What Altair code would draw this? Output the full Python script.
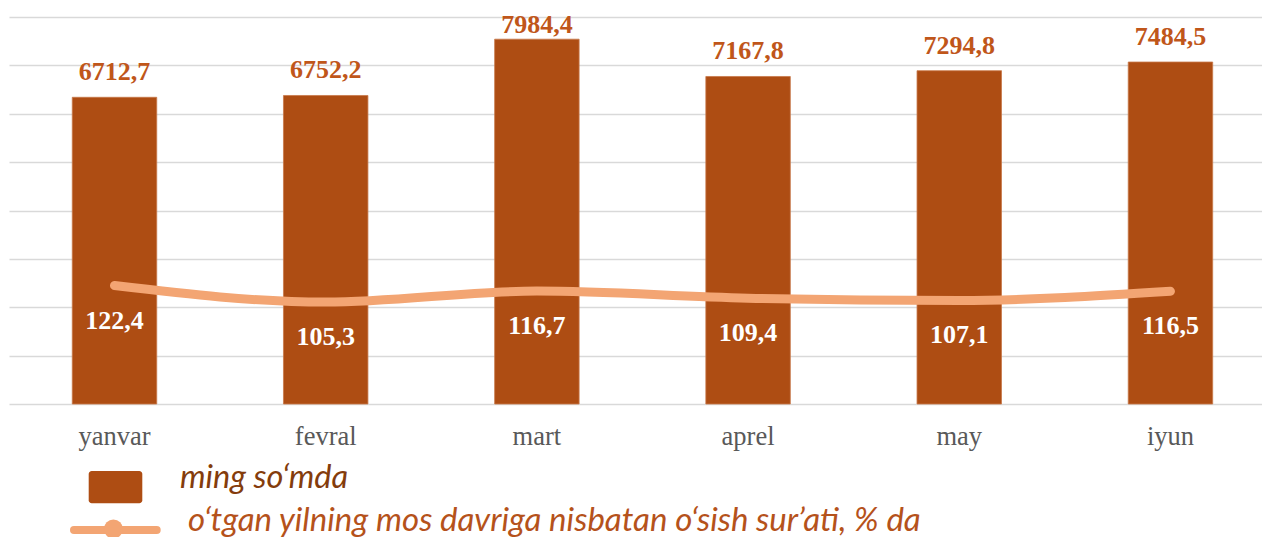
import altair as alt
import pandas as pd

months = ["yanvar", "fevral", "mart", "aprel", "may", "iyun"]
amounts = [6712.7, 6752.2, 7984.4, 7167.8, 7294.8, 7484.5]
growth = [122.4, 105.3, 116.7, 109.4, 107.1, 116.5]
legend_labels = ["ming so‘mda", "o‘tgan yilning mos davriga nisbatan o‘sish sur’ati, % da"]
grid_values = [0, 50, 100, 150, 200, 250, 300, 350, 400]

BAR = "#AE4D13"
LINE = "#F3A573"
LABEL = "#C0561A"

df = pd.DataFrame({"month": months, "amount": amounts, "growth": growth})
one = pd.DataFrame({"k": [0]})

fmt = "replace(format(datum.{f}, '.1f'), '.', ',')"

x = alt.X(
    "month:N", sort=months,
    scale=alt.Scale(paddingInner=0.6, paddingOuter=0.2665, align=0.562),
    axis=alt.Axis(title=None, labelFont="Liberation Serif", labelFontSize=26.5,
                  labelColor="#595959", labelPadding=19, ticks=False, domain=False,
                  labelAngle=0, grid=False),
)
bar_scale = alt.Scale(domain=[0, 8470], nice=False, zero=True)
line_scale = alt.Scale(domain=[0, 400], nice=False, zero=True)

bars = alt.Chart(df).mark_bar(color=BAR, stroke="#C8794A", strokeWidth=0.8).encode(
    x=x, y=alt.Y("amount:Q", scale=bar_scale, axis=None)
)

bar_labels = alt.Chart(df).transform_calculate(
    label_y="min(datum.amount, 7745)", lbl=fmt.format(f="amount")
).mark_text(font="Liberation Serif", fontSize=26, fontWeight="bold", color=LABEL,
            baseline="alphabetic", dy=-17).encode(
    x=x, y=alt.Y("label_y:Q", scale=bar_scale, axis=None), text="lbl:N"
)

line = alt.Chart(df).mark_line(color=LINE, strokeWidth=9, strokeCap="round",
                               interpolate="monotone").encode(
    x=x,
    y=alt.Y("growth:Q", scale=line_scale,
            axis=alt.Axis(values=grid_values, labels=False, ticks=False, domain=False,
                          title=None, grid=True, gridColor="#D9D9D9", gridWidth=1.6)),
)

line_labels = alt.Chart(df).transform_calculate(lbl=fmt.format(f="growth")).mark_text(
    font="Liberation Serif", fontSize=26, fontWeight="bold", color="white",
    baseline="middle", dy=35).encode(
    x=x, y=alt.Y("growth:Q", scale=line_scale, axis=None), text="lbl:N"
)

leg_rect = alt.Chart(one).mark_rect(color=BAR, cornerRadius=3).encode(
    x=alt.value(79.7), x2=alt.value(133.3), y=alt.value(454), y2=alt.value(486.3)
)
leg_rule = alt.Chart(one).mark_rule(color=LINE, strokeWidth=8, strokeCap="round").encode(
    x=alt.value(65), x2=alt.value(147.7), y=alt.value(513)
)
leg_dot = alt.Chart(one).mark_point(filled=True, color=LINE, opacity=1, size=360,
                                    shape="circle").encode(
    x=alt.value(104.4), y=alt.value(512)
)
leg_t1 = alt.Chart(one).mark_text(font="Lato", fontStyle="italic", fontSize=32.5,
                                  color="#843C0C", align="left",
                                  baseline="alphabetic").encode(
    x=alt.value(171), y=alt.value(470.7), text=alt.value(legend_labels[0])
)
leg_t2 = alt.Chart(one).mark_text(font="Lato", fontStyle="italic", fontSize=33,
                                  color="#B5521B", align="left",
                                  baseline="alphabetic").encode(
    x=alt.value(179), y=alt.value(514), text=alt.value(legend_labels[1])
)

chart = alt.layer(
    bars, bar_labels, line, line_labels,
    leg_rect, leg_rule, leg_dot, leg_t1, leg_t2,
).resolve_scale(y="independent").properties(
    width=1253, height=387,
    autosize=alt.AutoSizeParams(type="none"),
    padding={"left": 1, "top": 9, "right": 0, "bottom": 133},
).configure_view(stroke=None)

chart.save("out.html", embed_options={"renderer": "svg", "actions": False})
